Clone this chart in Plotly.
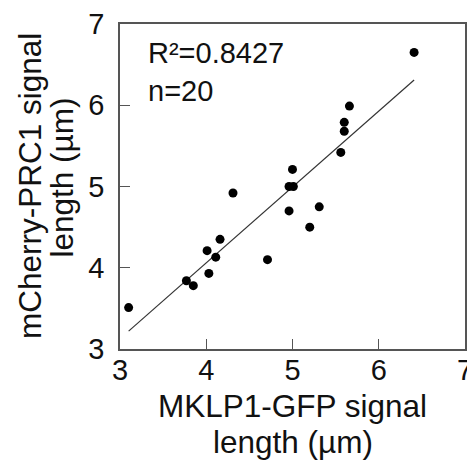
import plotly.graph_objects as go

# data
mklp1_x = [6.41, 5.66, 5.60, 5.60, 5.56, 5.00, 4.96, 5.01, 4.31, 4.96,
           5.31, 5.20, 4.16, 4.01, 4.11, 4.71, 4.03, 3.77, 3.85, 3.10]
prc1_y = [6.65, 5.99, 5.79, 5.68, 5.42, 5.21, 5.00, 5.00, 4.92, 4.70,
          4.75, 4.50, 4.35, 4.21, 4.13, 4.10, 3.93, 3.84, 3.78, 3.51]
fit_x = [3.10, 6.41]
fit_y = [3.22, 6.31]
tick_vals = [3, 4, 5, 6, 7]
stats_lines = ["R²=0.8427", "n=20"]
x_title_lines = ["MKLP1-GFP signal", "length (µm)"]
y_title_lines = ["mCherry-PRC1 signal", "length (µm)"]

FONT = "Liberation Sans, Arial, sans-serif"
TXT = "#111111"

fig = go.Figure()
fig.add_trace(go.Scatter(x=fit_x, y=fit_y, mode="lines",
                         line=dict(color="#333333", width=1.2), showlegend=False))
fig.add_trace(go.Scatter(x=mklp1_x, y=prc1_y, mode="markers",
                         marker=dict(color="black", size=9), showlegend=False))

axis_common = dict(range=[3, 7], tickvals=tick_vals, ticks="inside", ticklen=10,
                   tickcolor="#555555", tickwidth=1.3, showline=True, mirror=True,
                   linecolor="#555555", linewidth=1.5, showgrid=False, zeroline=False,
                   automargin=False,
                   tickfont=dict(family=FONT, size=29, color=TXT))

# the page body adds an 8px offset, so margins are shifted by -8px
fig.update_layout(
    width=475, height=463,
    margin=dict(l=112, r=18, t=16, b=122, autoexpand=False),
    paper_bgcolor="white", plot_bgcolor="white",
    xaxis=dict(**axis_common, ticklabelstandoff=-6),
    yaxis=dict(**axis_common, ticklabelstandoff=8),
)

annos = []
# stats text
for txt, yy in zip(stats_lines, [0.911, 0.794]):
    annos.append(dict(text=txt, xref="paper", yref="paper", x=0.076, y=yy,
                      xanchor="left", yanchor="middle", showarrow=False,
                      font=dict(family=FONT, size=29, color=TXT)))
# x title
for txt, yy in zip(x_title_lines, [-0.175, -0.286]):
    annos.append(dict(text=txt, xref="paper", yref="paper", x=0.5, y=yy,
                      xanchor="center", yanchor="middle", showarrow=False,
                      font=dict(family=FONT, size=31.5, color=TXT)))
# y title
for txt, xx, yy in zip(y_title_lines, [-0.262, -0.167], [0.5, 0.529]):
    annos.append(dict(text=txt, xref="paper", yref="paper", x=xx, y=yy,
                      xanchor="center", yanchor="middle", textangle=-90,
                      showarrow=False, font=dict(family=FONT, size=31.5, color=TXT)))
fig.update_layout(annotations=annos)

fig.write_html("out.html")
